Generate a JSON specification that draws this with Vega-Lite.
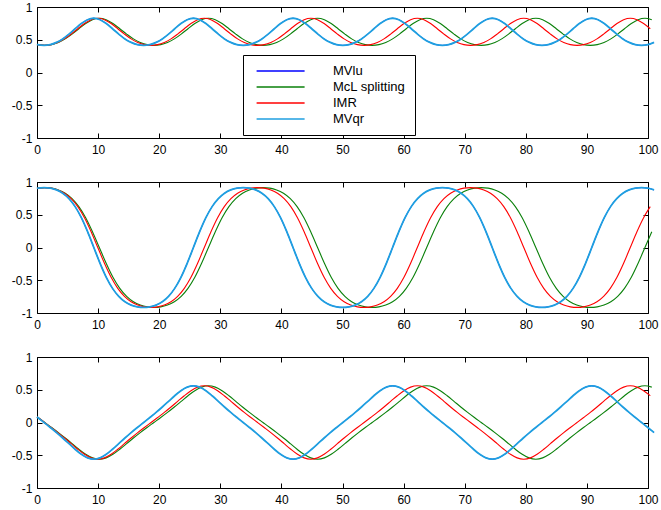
{
"$schema":"https://vega.github.io/schema/vega-lite/v6.json",
"padding":{"left":11,"top":1,"right":2,"bottom":2},
"background":"white",
"datasets":{"d":[
{"m":"MVqr","t":0,"a":0.429,"b":0.902,"c":0.086},{"m":"MVqr","t":0.13,"a":0.425,"b":0.906,"c":0.076},{"m":"MVqr","t":1.15,"a":0.414,"b":0.914,"c":0},{"m":"MVqr","t":2.17,"a":0.425,"b":0.906,"c":-0.076},{"m":"MVqr","t":3.19,"a":0.459,"b":0.879,"c":-0.154},{"m":"MVqr","t":4.21,"a":0.513,"b":0.828,"c":-0.237},{"m":"MVqr","t":5.23,"a":0.586,"b":0.746,"c":-0.323},{"m":"MVqr","t":6.24,"a":0.668,"b":0.624,"c":-0.409},{"m":"MVqr","t":7.26,"a":0.747,"b":0.455,"c":-0.486},{"m":"MVqr","t":8.28,"a":0.806,"b":0.241,"c":-0.54},
{"m":"MVqr","t":9.3,"a":0.828,"b":0,"c":-0.56},{"m":"MVqr","t":10.32,"a":0.806,"b":-0.241,"c":-0.54},{"m":"MVqr","t":11.34,"a":0.747,"b":-0.455,"c":-0.486},{"m":"MVqr","t":12.36,"a":0.668,"b":-0.624,"c":-0.409},{"m":"MVqr","t":13.38,"a":0.586,"b":-0.746,"c":-0.323},{"m":"MVqr","t":14.39,"a":0.513,"b":-0.828,"c":-0.237},{"m":"MVqr","t":15.41,"a":0.459,"b":-0.879,"c":-0.154},{"m":"MVqr","t":16.43,"a":0.425,"b":-0.906,"c":-0.076},{"m":"MVqr","t":17.45,"a":0.414,"b":-0.914,"c":0},{"m":"MVqr","t":18.47,"a":0.425,"b":-0.906,"c":0.076},{"m":"MVqr","t":19.49,"a":0.459,"b":-0.879,"c":0.154},{"m":"MVqr","t":20.51,"a":0.513,"b":-0.828,"c":0.237},{"m":"MVqr","t":21.53,"a":0.586,"b":-0.746,"c":0.323},{"m":"MVqr","t":22.54,"a":0.668,"b":-0.624,"c":0.409},{"m":"MVqr","t":23.56,"a":0.747,"b":-0.455,"c":0.486},{"m":"MVqr","t":24.58,"a":0.806,"b":-0.241,"c":0.54},
{"m":"MVqr","t":25.6,"a":0.828,"b":0,"c":0.56},{"m":"MVqr","t":26.62,"a":0.806,"b":0.241,"c":0.54},{"m":"MVqr","t":27.64,"a":0.747,"b":0.455,"c":0.486},{"m":"MVqr","t":28.66,"a":0.668,"b":0.624,"c":0.409},{"m":"MVqr","t":29.68,"a":0.586,"b":0.746,"c":0.323},{"m":"MVqr","t":30.69,"a":0.513,"b":0.828,"c":0.237},{"m":"MVqr","t":31.71,"a":0.459,"b":0.879,"c":0.154},{"m":"MVqr","t":32.73,"a":0.425,"b":0.906,"c":0.076},{"m":"MVqr","t":33.75,"a":0.414,"b":0.914,"c":0},{"m":"MVqr","t":34.77,"a":0.425,"b":0.906,"c":-0.076},{"m":"MVqr","t":35.79,"a":0.459,"b":0.879,"c":-0.154},{"m":"MVqr","t":36.81,"a":0.513,"b":0.828,"c":-0.237},{"m":"MVqr","t":37.83,"a":0.586,"b":0.746,"c":-0.323},{"m":"MVqr","t":38.84,"a":0.668,"b":0.624,"c":-0.409},{"m":"MVqr","t":39.86,"a":0.747,"b":0.455,"c":-0.486},{"m":"MVqr","t":40.88,"a":0.806,"b":0.241,"c":-0.54},
{"m":"MVqr","t":41.9,"a":0.828,"b":0,"c":-0.56},{"m":"MVqr","t":42.92,"a":0.806,"b":-0.241,"c":-0.54},{"m":"MVqr","t":43.94,"a":0.747,"b":-0.455,"c":-0.486},{"m":"MVqr","t":44.96,"a":0.668,"b":-0.624,"c":-0.409},{"m":"MVqr","t":45.98,"a":0.586,"b":-0.746,"c":-0.323},{"m":"MVqr","t":46.99,"a":0.513,"b":-0.828,"c":-0.237},{"m":"MVqr","t":48.01,"a":0.459,"b":-0.879,"c":-0.154},{"m":"MVqr","t":49.03,"a":0.425,"b":-0.906,"c":-0.076},{"m":"MVqr","t":50.05,"a":0.414,"b":-0.914,"c":0},{"m":"MVqr","t":51.07,"a":0.425,"b":-0.906,"c":0.076},{"m":"MVqr","t":52.09,"a":0.459,"b":-0.879,"c":0.154},{"m":"MVqr","t":53.11,"a":0.513,"b":-0.828,"c":0.237},{"m":"MVqr","t":54.13,"a":0.586,"b":-0.746,"c":0.323},{"m":"MVqr","t":55.14,"a":0.668,"b":-0.624,"c":0.409},{"m":"MVqr","t":56.16,"a":0.747,"b":-0.455,"c":0.486},{"m":"MVqr","t":57.18,"a":0.806,"b":-0.241,"c":0.54},
{"m":"MVqr","t":58.2,"a":0.828,"b":0,"c":0.56},{"m":"MVqr","t":59.22,"a":0.806,"b":0.241,"c":0.54},{"m":"MVqr","t":60.24,"a":0.747,"b":0.455,"c":0.486},{"m":"MVqr","t":61.26,"a":0.668,"b":0.624,"c":0.409},{"m":"MVqr","t":62.28,"a":0.586,"b":0.746,"c":0.323},{"m":"MVqr","t":63.29,"a":0.513,"b":0.828,"c":0.237},{"m":"MVqr","t":64.31,"a":0.459,"b":0.879,"c":0.154},{"m":"MVqr","t":65.33,"a":0.425,"b":0.906,"c":0.076},{"m":"MVqr","t":66.35,"a":0.414,"b":0.914,"c":0},{"m":"MVqr","t":67.37,"a":0.425,"b":0.906,"c":-0.076},{"m":"MVqr","t":68.39,"a":0.459,"b":0.879,"c":-0.154},{"m":"MVqr","t":69.41,"a":0.513,"b":0.828,"c":-0.237},{"m":"MVqr","t":70.43,"a":0.586,"b":0.746,"c":-0.323},{"m":"MVqr","t":71.44,"a":0.668,"b":0.624,"c":-0.409},{"m":"MVqr","t":72.46,"a":0.747,"b":0.455,"c":-0.486},{"m":"MVqr","t":73.48,"a":0.806,"b":0.241,"c":-0.54},
{"m":"MVqr","t":74.5,"a":0.828,"b":0,"c":-0.56},{"m":"MVqr","t":75.52,"a":0.806,"b":-0.241,"c":-0.54},{"m":"MVqr","t":76.54,"a":0.747,"b":-0.455,"c":-0.486},{"m":"MVqr","t":77.56,"a":0.668,"b":-0.624,"c":-0.409},{"m":"MVqr","t":78.58,"a":0.586,"b":-0.746,"c":-0.323},{"m":"MVqr","t":79.59,"a":0.513,"b":-0.828,"c":-0.237},{"m":"MVqr","t":80.61,"a":0.459,"b":-0.879,"c":-0.154},{"m":"MVqr","t":81.63,"a":0.425,"b":-0.906,"c":-0.076},{"m":"MVqr","t":82.65,"a":0.414,"b":-0.914,"c":0},{"m":"MVqr","t":83.67,"a":0.425,"b":-0.906,"c":0.076},{"m":"MVqr","t":84.69,"a":0.459,"b":-0.879,"c":0.154},{"m":"MVqr","t":85.71,"a":0.513,"b":-0.828,"c":0.237},{"m":"MVqr","t":86.73,"a":0.586,"b":-0.746,"c":0.323},{"m":"MVqr","t":87.74,"a":0.668,"b":-0.624,"c":0.409},{"m":"MVqr","t":88.76,"a":0.747,"b":-0.455,"c":0.486},{"m":"MVqr","t":89.78,"a":0.806,"b":-0.241,"c":0.54},
{"m":"MVqr","t":90.8,"a":0.828,"b":0,"c":0.56},{"m":"MVqr","t":91.82,"a":0.806,"b":0.241,"c":0.54},{"m":"MVqr","t":92.84,"a":0.747,"b":0.455,"c":0.486},{"m":"MVqr","t":93.86,"a":0.668,"b":0.624,"c":0.409},{"m":"MVqr","t":94.88,"a":0.586,"b":0.746,"c":0.323},{"m":"MVqr","t":95.89,"a":0.513,"b":0.828,"c":0.237},{"m":"MVqr","t":96.91,"a":0.459,"b":0.879,"c":0.154},{"m":"MVqr","t":97.93,"a":0.425,"b":0.906,"c":0.076},{"m":"MVqr","t":98.95,"a":0.414,"b":0.914,"c":0},{"m":"MVqr","t":99.97,"a":0.425,"b":0.906,"c":-0.076},{"m":"MVqr","t":100.99,"a":0.459,"b":0.879,"c":-0.154},

{"m":"MVlu","t":0,"a":0.429,"b":0.902,"c":0.086},{"m":"MVlu","t":0.13,"a":0.425,"b":0.906,"c":0.076},{"m":"MVlu","t":1.15,"a":0.414,"b":0.914,"c":0},{"m":"MVlu","t":2.17,"a":0.425,"b":0.906,"c":-0.076},{"m":"MVlu","t":3.19,"a":0.459,"b":0.879,"c":-0.154},{"m":"MVlu","t":4.21,"a":0.513,"b":0.828,"c":-0.237},{"m":"MVlu","t":5.23,"a":0.586,"b":0.746,"c":-0.323},{"m":"MVlu","t":6.24,"a":0.668,"b":0.624,"c":-0.409},{"m":"MVlu","t":7.26,"a":0.747,"b":0.455,"c":-0.486},{"m":"MVlu","t":8.28,"a":0.806,"b":0.241,"c":-0.54},
{"m":"MVlu","t":9.3,"a":0.828,"b":0,"c":-0.56},{"m":"MVlu","t":10.32,"a":0.806,"b":-0.241,"c":-0.54},{"m":"MVlu","t":11.34,"a":0.747,"b":-0.455,"c":-0.486},{"m":"MVlu","t":12.36,"a":0.668,"b":-0.624,"c":-0.409},{"m":"MVlu","t":13.38,"a":0.586,"b":-0.746,"c":-0.323},{"m":"MVlu","t":14.39,"a":0.513,"b":-0.828,"c":-0.237},{"m":"MVlu","t":15.41,"a":0.459,"b":-0.879,"c":-0.154},{"m":"MVlu","t":16.43,"a":0.425,"b":-0.906,"c":-0.076},{"m":"MVlu","t":17.45,"a":0.414,"b":-0.914,"c":0},{"m":"MVlu","t":18.47,"a":0.425,"b":-0.906,"c":0.076},{"m":"MVlu","t":19.49,"a":0.459,"b":-0.879,"c":0.154},{"m":"MVlu","t":20.51,"a":0.513,"b":-0.828,"c":0.237},{"m":"MVlu","t":21.53,"a":0.586,"b":-0.746,"c":0.323},{"m":"MVlu","t":22.54,"a":0.668,"b":-0.624,"c":0.409},{"m":"MVlu","t":23.56,"a":0.747,"b":-0.455,"c":0.486},{"m":"MVlu","t":24.58,"a":0.806,"b":-0.241,"c":0.54},
{"m":"MVlu","t":25.6,"a":0.828,"b":0,"c":0.56},{"m":"MVlu","t":26.62,"a":0.806,"b":0.241,"c":0.54},{"m":"MVlu","t":27.64,"a":0.747,"b":0.455,"c":0.486},{"m":"MVlu","t":28.66,"a":0.668,"b":0.624,"c":0.409},{"m":"MVlu","t":29.68,"a":0.586,"b":0.746,"c":0.323},{"m":"MVlu","t":30.69,"a":0.513,"b":0.828,"c":0.237},{"m":"MVlu","t":31.71,"a":0.459,"b":0.879,"c":0.154},{"m":"MVlu","t":32.73,"a":0.425,"b":0.906,"c":0.076},{"m":"MVlu","t":33.75,"a":0.414,"b":0.914,"c":0},{"m":"MVlu","t":34.77,"a":0.425,"b":0.906,"c":-0.076},{"m":"MVlu","t":35.79,"a":0.459,"b":0.879,"c":-0.154},{"m":"MVlu","t":36.81,"a":0.513,"b":0.828,"c":-0.237},{"m":"MVlu","t":37.83,"a":0.586,"b":0.746,"c":-0.323},{"m":"MVlu","t":38.84,"a":0.668,"b":0.624,"c":-0.409},{"m":"MVlu","t":39.86,"a":0.747,"b":0.455,"c":-0.486},{"m":"MVlu","t":40.88,"a":0.806,"b":0.241,"c":-0.54},
{"m":"MVlu","t":41.9,"a":0.828,"b":0,"c":-0.56},{"m":"MVlu","t":42.92,"a":0.806,"b":-0.241,"c":-0.54},{"m":"MVlu","t":43.94,"a":0.747,"b":-0.455,"c":-0.486},{"m":"MVlu","t":44.96,"a":0.668,"b":-0.624,"c":-0.409},{"m":"MVlu","t":45.98,"a":0.586,"b":-0.746,"c":-0.323},{"m":"MVlu","t":46.99,"a":0.513,"b":-0.828,"c":-0.237},{"m":"MVlu","t":48.01,"a":0.459,"b":-0.879,"c":-0.154},{"m":"MVlu","t":49.03,"a":0.425,"b":-0.906,"c":-0.076},{"m":"MVlu","t":50.05,"a":0.414,"b":-0.914,"c":0},{"m":"MVlu","t":51.07,"a":0.425,"b":-0.906,"c":0.076},{"m":"MVlu","t":52.09,"a":0.459,"b":-0.879,"c":0.154},{"m":"MVlu","t":53.11,"a":0.513,"b":-0.828,"c":0.237},{"m":"MVlu","t":54.13,"a":0.586,"b":-0.746,"c":0.323},{"m":"MVlu","t":55.14,"a":0.668,"b":-0.624,"c":0.409},{"m":"MVlu","t":56.16,"a":0.747,"b":-0.455,"c":0.486},{"m":"MVlu","t":57.18,"a":0.806,"b":-0.241,"c":0.54},
{"m":"MVlu","t":58.2,"a":0.828,"b":0,"c":0.56},{"m":"MVlu","t":59.22,"a":0.806,"b":0.241,"c":0.54},{"m":"MVlu","t":60.24,"a":0.747,"b":0.455,"c":0.486},{"m":"MVlu","t":61.26,"a":0.668,"b":0.624,"c":0.409},{"m":"MVlu","t":62.28,"a":0.586,"b":0.746,"c":0.323},{"m":"MVlu","t":63.29,"a":0.513,"b":0.828,"c":0.237},{"m":"MVlu","t":64.31,"a":0.459,"b":0.879,"c":0.154},{"m":"MVlu","t":65.33,"a":0.425,"b":0.906,"c":0.076},{"m":"MVlu","t":66.35,"a":0.414,"b":0.914,"c":0},{"m":"MVlu","t":67.37,"a":0.425,"b":0.906,"c":-0.076},{"m":"MVlu","t":68.39,"a":0.459,"b":0.879,"c":-0.154},{"m":"MVlu","t":69.41,"a":0.513,"b":0.828,"c":-0.237},{"m":"MVlu","t":70.43,"a":0.586,"b":0.746,"c":-0.323},{"m":"MVlu","t":71.44,"a":0.668,"b":0.624,"c":-0.409},{"m":"MVlu","t":72.46,"a":0.747,"b":0.455,"c":-0.486},{"m":"MVlu","t":73.48,"a":0.806,"b":0.241,"c":-0.54},
{"m":"MVlu","t":74.5,"a":0.828,"b":0,"c":-0.56},{"m":"MVlu","t":75.52,"a":0.806,"b":-0.241,"c":-0.54},{"m":"MVlu","t":76.54,"a":0.747,"b":-0.455,"c":-0.486},{"m":"MVlu","t":77.56,"a":0.668,"b":-0.624,"c":-0.409},{"m":"MVlu","t":78.58,"a":0.586,"b":-0.746,"c":-0.323},{"m":"MVlu","t":79.59,"a":0.513,"b":-0.828,"c":-0.237},{"m":"MVlu","t":80.61,"a":0.459,"b":-0.879,"c":-0.154},{"m":"MVlu","t":81.63,"a":0.425,"b":-0.906,"c":-0.076},{"m":"MVlu","t":82.65,"a":0.414,"b":-0.914,"c":0},{"m":"MVlu","t":83.67,"a":0.425,"b":-0.906,"c":0.076},{"m":"MVlu","t":84.69,"a":0.459,"b":-0.879,"c":0.154},{"m":"MVlu","t":85.71,"a":0.513,"b":-0.828,"c":0.237},{"m":"MVlu","t":86.73,"a":0.586,"b":-0.746,"c":0.323},{"m":"MVlu","t":87.74,"a":0.668,"b":-0.624,"c":0.409},{"m":"MVlu","t":88.76,"a":0.747,"b":-0.455,"c":0.486},{"m":"MVlu","t":89.78,"a":0.806,"b":-0.241,"c":0.54},
{"m":"MVlu","t":90.8,"a":0.828,"b":0,"c":0.56},{"m":"MVlu","t":91.82,"a":0.806,"b":0.241,"c":0.54},{"m":"MVlu","t":92.84,"a":0.747,"b":0.455,"c":0.486},{"m":"MVlu","t":93.86,"a":0.668,"b":0.624,"c":0.409},{"m":"MVlu","t":94.88,"a":0.586,"b":0.746,"c":0.323},{"m":"MVlu","t":95.89,"a":0.513,"b":0.828,"c":0.237},{"m":"MVlu","t":96.91,"a":0.459,"b":0.879,"c":0.154},{"m":"MVlu","t":97.93,"a":0.425,"b":0.906,"c":0.076},{"m":"MVlu","t":98.95,"a":0.414,"b":0.914,"c":0},{"m":"MVlu","t":99.97,"a":0.425,"b":0.906,"c":-0.076},{"m":"MVlu","t":100.99,"a":0.459,"b":0.879,"c":-0.154},

{"m":"IMR","t":0,"a":0.429,"b":0.902,"c":0.086},{"m":"IMR","t":0.15,"a":0.425,"b":0.906,"c":0.076},{"m":"IMR","t":1.24,"a":0.414,"b":0.914,"c":0},{"m":"IMR","t":2.33,"a":0.425,"b":0.906,"c":-0.076},{"m":"IMR","t":3.41,"a":0.459,"b":0.879,"c":-0.154},{"m":"IMR","t":4.5,"a":0.513,"b":0.828,"c":-0.237},{"m":"IMR","t":5.59,"a":0.586,"b":0.746,"c":-0.323},{"m":"IMR","t":6.68,"a":0.668,"b":0.624,"c":-0.409},{"m":"IMR","t":7.77,"a":0.747,"b":0.455,"c":-0.486},{"m":"IMR","t":8.86,"a":0.806,"b":0.241,"c":-0.54},
{"m":"IMR","t":9.95,"a":0.828,"b":0,"c":-0.56},{"m":"IMR","t":11.04,"a":0.806,"b":-0.241,"c":-0.54},{"m":"IMR","t":12.13,"a":0.747,"b":-0.455,"c":-0.486},{"m":"IMR","t":13.22,"a":0.668,"b":-0.624,"c":-0.409},{"m":"IMR","t":14.31,"a":0.586,"b":-0.746,"c":-0.323},{"m":"IMR","t":15.4,"a":0.513,"b":-0.828,"c":-0.237},{"m":"IMR","t":16.49,"a":0.459,"b":-0.879,"c":-0.154},{"m":"IMR","t":17.58,"a":0.425,"b":-0.906,"c":-0.076},{"m":"IMR","t":18.67,"a":0.414,"b":-0.914,"c":0},{"m":"IMR","t":19.75,"a":0.425,"b":-0.906,"c":0.076},{"m":"IMR","t":20.84,"a":0.459,"b":-0.879,"c":0.154},{"m":"IMR","t":21.93,"a":0.513,"b":-0.828,"c":0.237},{"m":"IMR","t":23.02,"a":0.586,"b":-0.746,"c":0.323},{"m":"IMR","t":24.11,"a":0.668,"b":-0.624,"c":0.409},{"m":"IMR","t":25.2,"a":0.747,"b":-0.455,"c":0.486},{"m":"IMR","t":26.29,"a":0.806,"b":-0.241,"c":0.54},
{"m":"IMR","t":27.38,"a":0.828,"b":0,"c":0.56},{"m":"IMR","t":28.47,"a":0.806,"b":0.241,"c":0.54},{"m":"IMR","t":29.56,"a":0.747,"b":0.455,"c":0.486},{"m":"IMR","t":30.65,"a":0.668,"b":0.624,"c":0.409},{"m":"IMR","t":31.74,"a":0.586,"b":0.746,"c":0.323},{"m":"IMR","t":32.83,"a":0.513,"b":0.828,"c":0.237},{"m":"IMR","t":33.92,"a":0.459,"b":0.879,"c":0.154},{"m":"IMR","t":35.01,"a":0.425,"b":0.906,"c":0.076},{"m":"IMR","t":36.1,"a":0.414,"b":0.914,"c":0},{"m":"IMR","t":37.18,"a":0.425,"b":0.906,"c":-0.076},{"m":"IMR","t":38.27,"a":0.459,"b":0.879,"c":-0.154},{"m":"IMR","t":39.36,"a":0.513,"b":0.828,"c":-0.237},{"m":"IMR","t":40.45,"a":0.586,"b":0.746,"c":-0.323},{"m":"IMR","t":41.54,"a":0.668,"b":0.624,"c":-0.409},{"m":"IMR","t":42.63,"a":0.747,"b":0.455,"c":-0.486},{"m":"IMR","t":43.72,"a":0.806,"b":0.241,"c":-0.54},
{"m":"IMR","t":44.81,"a":0.828,"b":0,"c":-0.56},{"m":"IMR","t":45.9,"a":0.806,"b":-0.241,"c":-0.54},{"m":"IMR","t":46.99,"a":0.747,"b":-0.455,"c":-0.486},{"m":"IMR","t":48.08,"a":0.668,"b":-0.624,"c":-0.409},{"m":"IMR","t":49.17,"a":0.586,"b":-0.746,"c":-0.323},{"m":"IMR","t":50.26,"a":0.513,"b":-0.828,"c":-0.237},{"m":"IMR","t":51.35,"a":0.459,"b":-0.879,"c":-0.154},{"m":"IMR","t":52.44,"a":0.425,"b":-0.906,"c":-0.076},{"m":"IMR","t":53.53,"a":0.414,"b":-0.914,"c":0},{"m":"IMR","t":54.61,"a":0.425,"b":-0.906,"c":0.076},{"m":"IMR","t":55.7,"a":0.459,"b":-0.879,"c":0.154},{"m":"IMR","t":56.79,"a":0.513,"b":-0.828,"c":0.237},{"m":"IMR","t":57.88,"a":0.586,"b":-0.746,"c":0.323},{"m":"IMR","t":58.97,"a":0.668,"b":-0.624,"c":0.409},{"m":"IMR","t":60.06,"a":0.747,"b":-0.455,"c":0.486},{"m":"IMR","t":61.15,"a":0.806,"b":-0.241,"c":0.54},
{"m":"IMR","t":62.24,"a":0.828,"b":0,"c":0.56},{"m":"IMR","t":63.33,"a":0.806,"b":0.241,"c":0.54},{"m":"IMR","t":64.42,"a":0.747,"b":0.455,"c":0.486},{"m":"IMR","t":65.51,"a":0.668,"b":0.624,"c":0.409},{"m":"IMR","t":66.6,"a":0.586,"b":0.746,"c":0.323},{"m":"IMR","t":67.69,"a":0.513,"b":0.828,"c":0.237},{"m":"IMR","t":68.78,"a":0.459,"b":0.879,"c":0.154},{"m":"IMR","t":69.87,"a":0.425,"b":0.906,"c":0.076},{"m":"IMR","t":70.96,"a":0.414,"b":0.914,"c":0},{"m":"IMR","t":72.04,"a":0.425,"b":0.906,"c":-0.076},{"m":"IMR","t":73.13,"a":0.459,"b":0.879,"c":-0.154},{"m":"IMR","t":74.22,"a":0.513,"b":0.828,"c":-0.237},{"m":"IMR","t":75.31,"a":0.586,"b":0.746,"c":-0.323},{"m":"IMR","t":76.4,"a":0.668,"b":0.624,"c":-0.409},{"m":"IMR","t":77.49,"a":0.747,"b":0.455,"c":-0.486},{"m":"IMR","t":78.58,"a":0.806,"b":0.241,"c":-0.54},
{"m":"IMR","t":79.67,"a":0.828,"b":0,"c":-0.56},{"m":"IMR","t":80.76,"a":0.806,"b":-0.241,"c":-0.54},{"m":"IMR","t":81.85,"a":0.747,"b":-0.455,"c":-0.486},{"m":"IMR","t":82.94,"a":0.668,"b":-0.624,"c":-0.409},{"m":"IMR","t":84.03,"a":0.586,"b":-0.746,"c":-0.323},{"m":"IMR","t":85.12,"a":0.513,"b":-0.828,"c":-0.237},{"m":"IMR","t":86.21,"a":0.459,"b":-0.879,"c":-0.154},{"m":"IMR","t":87.3,"a":0.425,"b":-0.906,"c":-0.076},{"m":"IMR","t":88.39,"a":0.414,"b":-0.914,"c":0},{"m":"IMR","t":89.47,"a":0.425,"b":-0.906,"c":0.076},{"m":"IMR","t":90.56,"a":0.459,"b":-0.879,"c":0.154},{"m":"IMR","t":91.65,"a":0.513,"b":-0.828,"c":0.237},{"m":"IMR","t":92.74,"a":0.586,"b":-0.746,"c":0.323},{"m":"IMR","t":93.83,"a":0.668,"b":-0.624,"c":0.409},{"m":"IMR","t":94.92,"a":0.747,"b":-0.455,"c":0.486},{"m":"IMR","t":96.01,"a":0.806,"b":-0.241,"c":0.54},
{"m":"IMR","t":97.1,"a":0.828,"b":0,"c":0.56},{"m":"IMR","t":98.19,"a":0.806,"b":0.241,"c":0.54},{"m":"IMR","t":99.28,"a":0.747,"b":0.455,"c":0.486},{"m":"IMR","t":100.37,"a":0.668,"b":0.624,"c":0.409},

{"m":"McL splitting","t":0,"a":0.429,"b":0.902,"c":0.086},{"m":"McL splitting","t":0.15,"a":0.425,"b":0.906,"c":0.076},{"m":"McL splitting","t":1.27,"a":0.414,"b":0.914,"c":0},{"m":"McL splitting","t":2.39,"a":0.425,"b":0.906,"c":-0.076},{"m":"McL splitting","t":3.5,"a":0.459,"b":0.879,"c":-0.154},{"m":"McL splitting","t":4.62,"a":0.513,"b":0.828,"c":-0.237},{"m":"McL splitting","t":5.74,"a":0.586,"b":0.746,"c":-0.323},{"m":"McL splitting","t":6.85,"a":0.668,"b":0.624,"c":-0.409},{"m":"McL splitting","t":7.97,"a":0.747,"b":0.455,"c":-0.486},{"m":"McL splitting","t":9.08,"a":0.806,"b":0.241,"c":-0.54},
{"m":"McL splitting","t":10.2,"a":0.828,"b":0,"c":-0.56},{"m":"McL splitting","t":11.32,"a":0.806,"b":-0.241,"c":-0.54},{"m":"McL splitting","t":12.43,"a":0.747,"b":-0.455,"c":-0.486},{"m":"McL splitting","t":13.55,"a":0.668,"b":-0.624,"c":-0.409},{"m":"McL splitting","t":14.67,"a":0.586,"b":-0.746,"c":-0.323},{"m":"McL splitting","t":15.78,"a":0.513,"b":-0.828,"c":-0.237},{"m":"McL splitting","t":16.9,"a":0.459,"b":-0.879,"c":-0.154},{"m":"McL splitting","t":18.01,"a":0.425,"b":-0.906,"c":-0.076},{"m":"McL splitting","t":19.13,"a":0.414,"b":-0.914,"c":0},{"m":"McL splitting","t":20.25,"a":0.425,"b":-0.906,"c":0.076},{"m":"McL splitting","t":21.36,"a":0.459,"b":-0.879,"c":0.154},{"m":"McL splitting","t":22.48,"a":0.513,"b":-0.828,"c":0.237},{"m":"McL splitting","t":23.6,"a":0.586,"b":-0.746,"c":0.323},{"m":"McL splitting","t":24.71,"a":0.668,"b":-0.624,"c":0.409},{"m":"McL splitting","t":25.83,"a":0.747,"b":-0.455,"c":0.486},{"m":"McL splitting","t":26.94,"a":0.806,"b":-0.241,"c":0.54},
{"m":"McL splitting","t":28.06,"a":0.828,"b":0,"c":0.56},{"m":"McL splitting","t":29.18,"a":0.806,"b":0.241,"c":0.54},{"m":"McL splitting","t":30.29,"a":0.747,"b":0.455,"c":0.486},{"m":"McL splitting","t":31.41,"a":0.668,"b":0.624,"c":0.409},{"m":"McL splitting","t":32.53,"a":0.586,"b":0.746,"c":0.323},{"m":"McL splitting","t":33.64,"a":0.513,"b":0.828,"c":0.237},{"m":"McL splitting","t":34.76,"a":0.459,"b":0.879,"c":0.154},{"m":"McL splitting","t":35.87,"a":0.425,"b":0.906,"c":0.076},{"m":"McL splitting","t":36.99,"a":0.414,"b":0.914,"c":0},{"m":"McL splitting","t":38.11,"a":0.425,"b":0.906,"c":-0.076},{"m":"McL splitting","t":39.22,"a":0.459,"b":0.879,"c":-0.154},{"m":"McL splitting","t":40.34,"a":0.513,"b":0.828,"c":-0.237},{"m":"McL splitting","t":41.46,"a":0.586,"b":0.746,"c":-0.323},{"m":"McL splitting","t":42.57,"a":0.668,"b":0.624,"c":-0.409},{"m":"McL splitting","t":43.69,"a":0.747,"b":0.455,"c":-0.486},{"m":"McL splitting","t":44.8,"a":0.806,"b":0.241,"c":-0.54},
{"m":"McL splitting","t":45.92,"a":0.828,"b":0,"c":-0.56},{"m":"McL splitting","t":47.04,"a":0.806,"b":-0.241,"c":-0.54},{"m":"McL splitting","t":48.15,"a":0.747,"b":-0.455,"c":-0.486},{"m":"McL splitting","t":49.27,"a":0.668,"b":-0.624,"c":-0.409},{"m":"McL splitting","t":50.39,"a":0.586,"b":-0.746,"c":-0.323},{"m":"McL splitting","t":51.5,"a":0.513,"b":-0.828,"c":-0.237},{"m":"McL splitting","t":52.62,"a":0.459,"b":-0.879,"c":-0.154},{"m":"McL splitting","t":53.73,"a":0.425,"b":-0.906,"c":-0.076},{"m":"McL splitting","t":54.85,"a":0.414,"b":-0.914,"c":0},{"m":"McL splitting","t":55.97,"a":0.425,"b":-0.906,"c":0.076},{"m":"McL splitting","t":57.08,"a":0.459,"b":-0.879,"c":0.154},{"m":"McL splitting","t":58.2,"a":0.513,"b":-0.828,"c":0.237},{"m":"McL splitting","t":59.32,"a":0.586,"b":-0.746,"c":0.323},{"m":"McL splitting","t":60.43,"a":0.668,"b":-0.624,"c":0.409},{"m":"McL splitting","t":61.55,"a":0.747,"b":-0.455,"c":0.486},{"m":"McL splitting","t":62.66,"a":0.806,"b":-0.241,"c":0.54},
{"m":"McL splitting","t":63.78,"a":0.828,"b":0,"c":0.56},{"m":"McL splitting","t":64.9,"a":0.806,"b":0.241,"c":0.54},{"m":"McL splitting","t":66.01,"a":0.747,"b":0.455,"c":0.486},{"m":"McL splitting","t":67.13,"a":0.668,"b":0.624,"c":0.409},{"m":"McL splitting","t":68.25,"a":0.586,"b":0.746,"c":0.323},{"m":"McL splitting","t":69.36,"a":0.513,"b":0.828,"c":0.237},{"m":"McL splitting","t":70.48,"a":0.459,"b":0.879,"c":0.154},{"m":"McL splitting","t":71.59,"a":0.425,"b":0.906,"c":0.076},{"m":"McL splitting","t":72.71,"a":0.414,"b":0.914,"c":0},{"m":"McL splitting","t":73.83,"a":0.425,"b":0.906,"c":-0.076},{"m":"McL splitting","t":74.94,"a":0.459,"b":0.879,"c":-0.154},{"m":"McL splitting","t":76.06,"a":0.513,"b":0.828,"c":-0.237},{"m":"McL splitting","t":77.18,"a":0.586,"b":0.746,"c":-0.323},{"m":"McL splitting","t":78.29,"a":0.668,"b":0.624,"c":-0.409},{"m":"McL splitting","t":79.41,"a":0.747,"b":0.455,"c":-0.486},{"m":"McL splitting","t":80.52,"a":0.806,"b":0.241,"c":-0.54},
{"m":"McL splitting","t":81.64,"a":0.828,"b":0,"c":-0.56},{"m":"McL splitting","t":82.76,"a":0.806,"b":-0.241,"c":-0.54},{"m":"McL splitting","t":83.87,"a":0.747,"b":-0.455,"c":-0.486},{"m":"McL splitting","t":84.99,"a":0.668,"b":-0.624,"c":-0.409},{"m":"McL splitting","t":86.11,"a":0.586,"b":-0.746,"c":-0.323},{"m":"McL splitting","t":87.22,"a":0.513,"b":-0.828,"c":-0.237},{"m":"McL splitting","t":88.34,"a":0.459,"b":-0.879,"c":-0.154},{"m":"McL splitting","t":89.45,"a":0.425,"b":-0.906,"c":-0.076},{"m":"McL splitting","t":90.57,"a":0.414,"b":-0.914,"c":0},{"m":"McL splitting","t":91.69,"a":0.425,"b":-0.906,"c":0.076},{"m":"McL splitting","t":92.8,"a":0.459,"b":-0.879,"c":0.154},{"m":"McL splitting","t":93.92,"a":0.513,"b":-0.828,"c":0.237},{"m":"McL splitting","t":95.04,"a":0.586,"b":-0.746,"c":0.323},{"m":"McL splitting","t":96.15,"a":0.668,"b":-0.624,"c":0.409},{"m":"McL splitting","t":97.27,"a":0.747,"b":-0.455,"c":0.486},{"m":"McL splitting","t":98.38,"a":0.806,"b":-0.241,"c":0.54},
{"m":"McL splitting","t":99.5,"a":0.828,"b":0,"c":0.56},{"m":"McL splitting","t":100.62,"a":0.806,"b":0.241,"c":0.54}
]},
"data":{"name":"d"},
"config":{
 "font":"Liberation Sans",
 "view":{"stroke":null},
 "axis":{"grid":false,"title":null,"domainColor":"black","domainWidth":1,"tickColor":"black","tickWidth":1,"tickSize":-5,"labelColor":"black","labelFont":"Liberation Sans","labelFontSize":12,"labelFlush":false,"labelOverlap":false},
 "line":{"clip":true,"interpolate":"monotone"}
},
"bounds":"flush",
"spacing":44,
"vconcat":[
 {"width":611,"height":131,
  "encoding":{
   "x":{"field":"t","type":"quantitative","scale":{"domain":[0,100],"nice":false,"zero":false},"axis":null},
   "y":{"field":"a","type":"quantitative","scale":{"domain":[-1,1],"nice":false},"axis":null},
   "color":{"field":"m","type":"nominal","scale":{"domain":["MVlu","McL splitting","IMR","MVqr"],"range":["#0000ff","#0a800a","#ff0000","#1f9fe0"]},
     "legend":{"title":null,"orient":"none","legendX":206,"legendY":48,"symbolType":"M-0.4,0L7.6,0","symbolSize":144,"symbolStrokeWidth":1.3,"labelFontSize":13,"labelFont":"Liberation Sans","labelColor":"black","labelOffset":67,"padding":9,"strokeColor":"black","fillColor":"white","rowPadding":2,"labelLimit":0}}
  },
  "layer":[
   {"transform":[{"filter":"datum.m == 'MVlu'"}],"mark":{"type":"line","strokeWidth":1},
    "encoding":{
     "x":{"field":"t","type":"quantitative","axis":{"orient":"bottom","values":[0,10,20,30,40,50,60,70,80,90,100],"labelPadding":11}},
     "y":{"field":"a","type":"quantitative","axis":{"orient":"left","values":[-1,-0.5,0,0.5,1],"labelPadding":10,"format":"~g","labelExpr":"replace(datum.label, '\u2212', '-')"}}}},
   {"transform":[{"filter":"datum.m == 'McL splitting'"}],"mark":{"type":"line","strokeWidth":1.1},
    "encoding":{
     "x":{"field":"t","type":"quantitative","axis":{"orient":"top","values":[0,10,20,30,40,50,60,70,80,90,100],"labels":false}},
     "y":{"field":"a","type":"quantitative","axis":{"orient":"right","values":[-1,-0.5,0,0.5,1],"labels":false}}}},
   {"transform":[{"filter":"datum.m == 'IMR'"}],"mark":{"type":"line","strokeWidth":1.1}},
   {"transform":[{"filter":"datum.m == 'MVqr'"}],"mark":{"type":"line","strokeWidth":1.8}}
  ],
  "resolve":{"axis":{"x":"independent","y":"independent"}}
 },
 {"width":611,"height":131,
  "encoding":{
   "x":{"field":"t","type":"quantitative","scale":{"domain":[0,100],"nice":false,"zero":false},"axis":null},
   "y":{"field":"b","type":"quantitative","scale":{"domain":[-1,1],"nice":false},"axis":null},
   "color":{"field":"m","type":"nominal","scale":{"domain":["MVlu","McL splitting","IMR","MVqr"],"range":["#0000ff","#0a800a","#ff0000","#1f9fe0"]},
     "legend":{"title":null,"orient":"none","legendX":206,"legendY":48,"symbolType":"M-0.4,0L7.6,0","symbolSize":144,"symbolStrokeWidth":1.3,"labelFontSize":13,"labelFont":"Liberation Sans","labelColor":"black","labelOffset":67,"padding":9,"strokeColor":"black","fillColor":"white","rowPadding":2,"labelLimit":0}}
  },
  "layer":[
   {"transform":[{"filter":"datum.m == 'MVlu'"}],"mark":{"type":"line","strokeWidth":1},
    "encoding":{
     "x":{"field":"t","type":"quantitative","axis":{"orient":"bottom","values":[0,10,20,30,40,50,60,70,80,90,100],"labelPadding":11}},
     "y":{"field":"b","type":"quantitative","axis":{"orient":"left","values":[-1,-0.5,0,0.5,1],"labelPadding":10,"format":"~g","labelExpr":"replace(datum.label, '\u2212', '-')"}}}},
   {"transform":[{"filter":"datum.m == 'McL splitting'"}],"mark":{"type":"line","strokeWidth":1.1},
    "encoding":{
     "x":{"field":"t","type":"quantitative","axis":{"orient":"top","values":[0,10,20,30,40,50,60,70,80,90,100],"labels":false}},
     "y":{"field":"b","type":"quantitative","axis":{"orient":"right","values":[-1,-0.5,0,0.5,1],"labels":false}}}},
   {"transform":[{"filter":"datum.m == 'IMR'"}],"mark":{"type":"line","strokeWidth":1.1}},
   {"transform":[{"filter":"datum.m == 'MVqr'"}],"mark":{"type":"line","strokeWidth":1.8}}
  ],
  "resolve":{"axis":{"x":"independent","y":"independent"}}
 },
 {"width":611,"height":131,
  "encoding":{
   "x":{"field":"t","type":"quantitative","scale":{"domain":[0,100],"nice":false,"zero":false},"axis":null},
   "y":{"field":"c","type":"quantitative","scale":{"domain":[-1,1],"nice":false},"axis":null},
   "color":{"field":"m","type":"nominal","scale":{"domain":["MVlu","McL splitting","IMR","MVqr"],"range":["#0000ff","#0a800a","#ff0000","#1f9fe0"]},
     "legend":{"title":null,"orient":"none","legendX":206,"legendY":48,"symbolType":"M-0.4,0L7.6,0","symbolSize":144,"symbolStrokeWidth":1.3,"labelFontSize":13,"labelFont":"Liberation Sans","labelColor":"black","labelOffset":67,"padding":9,"strokeColor":"black","fillColor":"white","rowPadding":2,"labelLimit":0}}
  },
  "layer":[
   {"transform":[{"filter":"datum.m == 'MVlu'"}],"mark":{"type":"line","strokeWidth":1},
    "encoding":{
     "x":{"field":"t","type":"quantitative","axis":{"orient":"bottom","values":[0,10,20,30,40,50,60,70,80,90,100],"labelPadding":11}},
     "y":{"field":"c","type":"quantitative","axis":{"orient":"left","values":[-1,-0.5,0,0.5,1],"labelPadding":10,"format":"~g","labelExpr":"replace(datum.label, '\u2212', '-')"}}}},
   {"transform":[{"filter":"datum.m == 'McL splitting'"}],"mark":{"type":"line","strokeWidth":1.1},
    "encoding":{
     "x":{"field":"t","type":"quantitative","axis":{"orient":"top","values":[0,10,20,30,40,50,60,70,80,90,100],"labels":false}},
     "y":{"field":"c","type":"quantitative","axis":{"orient":"right","values":[-1,-0.5,0,0.5,1],"labels":false}}}},
   {"transform":[{"filter":"datum.m == 'IMR'"}],"mark":{"type":"line","strokeWidth":1.1}},
   {"transform":[{"filter":"datum.m == 'MVqr'"}],"mark":{"type":"line","strokeWidth":1.8}}
  ],
  "resolve":{"axis":{"x":"independent","y":"independent"}}
 }
]
}
